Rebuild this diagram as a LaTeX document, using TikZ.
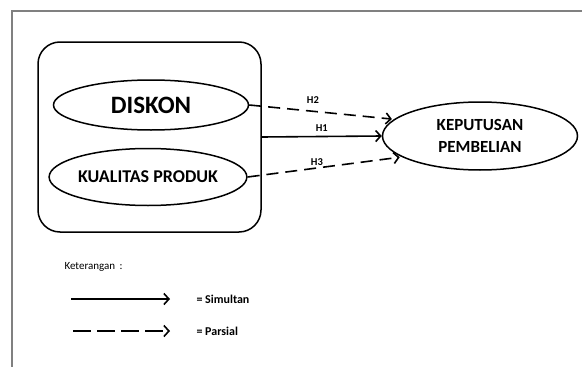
\documentclass[tikz,border=0pt]{standalone}
\usepackage{fontspec}
\setmainfont{Carlito}
\usetikzlibrary{arrows.meta,positioning,shapes.geometric}

\begin{document}
\begin{tikzpicture}[
        x=1pt, y=-1pt,
        var/.style={ellipse, draw, line width=1.5pt, inner sep=0pt, align=center},
        hyp/.style={-{Straight Barb[length=5pt,width=11pt]}, line width=1.6pt},
        part/.style={hyp, dash pattern=on 12pt off 7pt},
        hlabel/.style={font=\bfseries\fontsize{10.5}{12}\selectfont},
        legend/.style={anchor=west, font=\bfseries\fontsize{12}{14}\selectfont}
    ]
    \useasboundingbox (0,0) rectangle (582,367);
    \draw[gray, line width=1.5pt] (582,11) -- (12,11) -- (12,367);

    \node[draw, rounded corners=22pt, line width=1.5pt, minimum width=223pt, minimum height=190pt] (group) at (149.5,137) {};
    \node[var, minimum width=195pt, minimum height=50pt, font=\bfseries\fontsize{25}{30}\selectfont] (diskon) at (151,105) {DISKON};
    \node[var, minimum width=197pt, minimum height=57pt, font=\bfseries\fontsize{18}{22}\selectfont] (kualitas) at (148,177) {KUALITAS PRODUK};
    \node[var, minimum width=195pt, minimum height=68pt, font=\bfseries\fontsize{17}{22.5}\selectfont] (keputusan) at (480,136) {KEPUTUSAN\\PEMBELIAN};

    \draw[part, shorten >=2pt] (diskon.east) -- (keputusan.169) node[hlabel, pos=0.44, above=4pt] {H2};
    \draw[hyp] (group.east) -- (keputusan.west) node[hlabel, midway, above=1pt] {H1};
    \draw[part, shorten >=2pt] (kualitas.east) -- (keputusan.195) node[hlabel, pos=0.45, above=-2pt] {H3};

    % keterangan
    \node[anchor=west, font=\fontsize{11}{13}\selectfont] (ket) at (61,267) {Keterangan \,:};
    \node[legend] (simultan) at (193,299) {= Simultan};
    \node[legend] (parsial) at (193,331) {= Parsial};
    \coordinate (s1) at (71,299);
    \coordinate (s2) at (170,299);
    \coordinate (p1) at (73,331);
    \coordinate (p2) at (170,331);
    \draw[hyp] (s1) -- (s2);
    \draw[hyp, dash pattern=on 18pt off 6pt] (p1) -- (p2);
\end{tikzpicture}
\end{document}
